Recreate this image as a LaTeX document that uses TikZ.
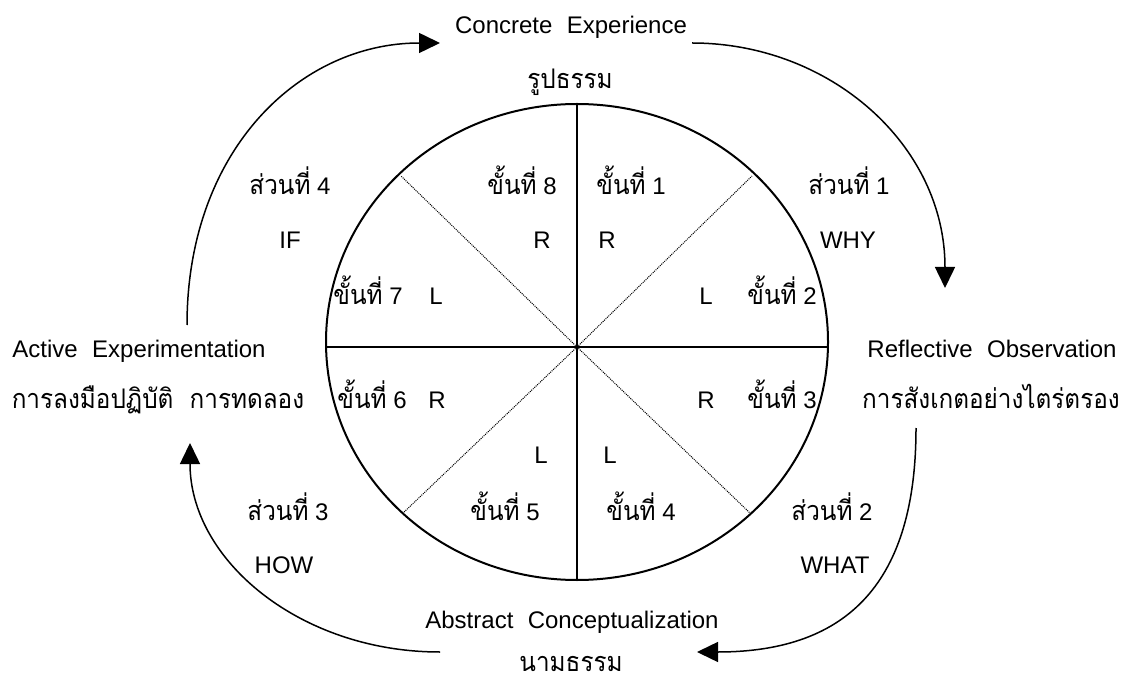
\documentclass[tikz,border=0pt]{standalone}
\usepackage{fontspec}
\setmainfont{Liberation Sans}
\newfontfamily\thaifont[Script=Thai, FakeStretch=0.9]{Loma}
\usetikzlibrary{arrows.meta}
\newcommand{\thtext}[1]{{\fontsize{27}{31}\selectfont\thaifont #1}}
\newcommand{\stepno}[1]{\thtext{ขั้นที่}~#1}
\newcommand{\partno}[1]{\thtext{ส่วนที่}~#1}

\begin{document}
\begin{tikzpicture}[
  x=1pt, y=-1pt,
  >={Triangle[length=21pt, width=20pt]},
  lab/.style={anchor=base, inner sep=0pt, font=\fontsize{24}{28}\selectfont},
  thlab/.style={anchor=base, inner sep=0pt, font=\fontsize{27}{31}\selectfont\thaifont},
  rim/.style={line width=2pt},
  axisline/.style={line width=1.5pt},
  diag/.style={line width=1pt, densely dotted},
  cyclearrow/.style={->, line width=1.5pt},
]
\useasboundingbox (0,0) rectangle (1124,684);

% ===== Wheel =====
\coordinate (o) at (577,347);
\draw[rim] (577,342) ellipse [x radius=251, y radius=238];
\coordinate (top) at (577,104);
\coordinate (bot) at (577,580);
\coordinate (lft) at (326,347);
\coordinate (rgt) at (828,347);
\draw[axisline] (top) -- (bot);
\draw[axisline] (lft) -- (rgt);
\coordinate (ul) at (401,176);
\coordinate (ur) at (752,176);
\coordinate (ll) at (402,514);
\coordinate (lr) at (751,514);
\draw[diag] (o) -- (ul);
\draw[diag] (o) -- (ur);
\draw[diag] (o) -- (ll);
\draw[diag] (o) -- (lr);

% steps
\node[lab] (s1) at (631,195) {\stepno{1}};
\node[lab] (s2) at (782,305) {\stepno{2}};
\node[lab] (s3) at (782,408) {\stepno{3}};
\node[lab] (s4) at (641,520) {\stepno{4}};
\node[lab] (s5) at (505,520) {\stepno{5}};
\node[lab] (s6) at (372,408) {\stepno{6}};
\node[lab] (s7) at (368,305) {\stepno{7}};
\node[lab] (s8) at (522,195) {\stepno{8}};

% hemispheres
\node[lab] (r8) at (542,249) {R};
\node[lab] (r1) at (607,249) {R};
\node[lab] (l7) at (436,305) {L};
\node[lab] (l2) at (706,305) {L};
\node[lab] (r6) at (437,408) {R};
\node[lab] (r3) at (706,408) {R};
\node[lab] (l5) at (541,463) {L};
\node[lab] (l4) at (610,463) {L};

% ===== Parts =====
\node[lab] (p4) at (290,195) {\partno{4}};
\node[lab] (if) at (290,249) {IF};
\node[lab] (p1) at (849,195) {\partno{1}};
\node[lab] (why) at (848,249) {WHY};
\node[lab] (p2) at (832,520) {\partno{2}};
\node[lab] (what) at (835,573) {WHAT};
\node[lab] (p3) at (288,520) {\partno{3}};
\node[lab] (how) at (284,573) {HOW};

% ===== Phases =====
\node[lab] (ce) at (571,34) {Concrete\hspace{0.6em}Experience};
\node[thlab] (ceth) at (570,89) {รูปธรรม};
\node[lab] (ro) at (992,358) {Reflective\hspace{0.6em}Observation};
\node[thlab] (roth) at (991,408) {การสังเกตอย่างไตร่ตรอง};
\node[lab] (ac) at (572,628) {Abstract\hspace{0.6em}Conceptualization};
\node[thlab] (acth) at (571,671) {นามธรรม};
\node[lab] (ae) at (139,358) {Active\hspace{0.6em}Experimentation};
\node[thlab] (aeth) at (158,408) {การลงมือปฏิบัติ\hspace{0.6em}การทดลอง};

% ===== Cycle arrows =====
\coordinate (ae-out) at (187,325);
\coordinate (ce-in) at (440,43);
\coordinate (ce-out) at (692,43);
\coordinate (ro-in) at (945,288);
\coordinate (ro-out) at (916,428);
\coordinate (ac-in) at (697,652);
\coordinate (ac-out) at (440,652);
\coordinate (ae-in) at (190,443);
\draw[cyclearrow] (ae-out) .. controls (187,150) and (300,43) .. (ce-in);
\draw[cyclearrow] (ce-out) .. controls (830,43) and (945,145) .. (ro-in);
\draw[cyclearrow] (ro-out) .. controls (916,580) and (850,652) .. (ac-in);
\draw[cyclearrow] (ac-out) .. controls (300,652) and (190,560) .. (ae-in);

\end{tikzpicture}
\end{document}
